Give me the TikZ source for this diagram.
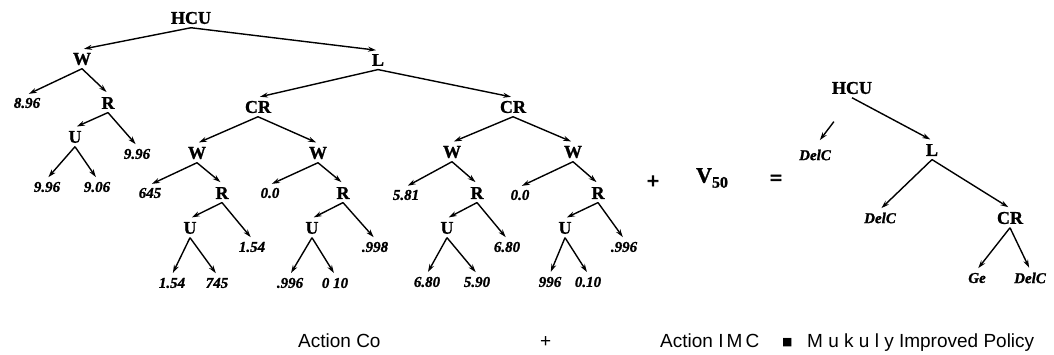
\documentclass[tikz,border=0pt]{standalone}
\usepackage{fontspec}
\setmainfont{Liberation Serif}
\newfontfamily\tb[FakeBold=1.2]{Liberation Serif}
\newfontfamily\tbb[FakeBold=3]{Liberation Serif}
\newfontfamily\sansfam{Liberation Sans}
\newfontfamily\symfam{DejaVu Sans}
\usetikzlibrary{arrows.meta}
\begin{document}
\begin{tikzpicture}[x=1pt,y=-1pt,
  lab/.style={font=\tb\bfseries\fontsize{18}{18}\selectfont, inner sep=3.5pt},
  num/.style={font=\tb\bfseries\itshape\fontsize{15}{15}\selectfont, inner sep=3pt},
  arr/.style={-{Stealth[length=8pt,width=5pt]}, line width=1.4pt, shorten >=2pt},
  btm/.style={font=\sansfam\fontsize{19}{19}\selectfont, inner sep=0pt, anchor=base west}]
\useasboundingbox (0,0) rectangle (1054,355);
% left tree
\node[lab] (hcu) at (191,18) {HCU};
\node[lab] (w1) at (82,59) {W};
\node[lab] (l1) at (378,60) {L};
\node[num] (n896) at (27,103) {8.96};
\node[lab] (r1) at (108,103) {R};
\node[lab] (u1) at (75,137) {U};
\node[num] (n996a) at (137,154) {9.96};
\node[num] (n996b) at (47,187) {9.96};
\node[num] (n906) at (97,187) {9.06};
\node[lab] (cr1) at (258,107) {CR};
\node[lab] (wa) at (197,153) {W};
\node[lab] (wb) at (318,153) {W};
\node[num] (n645) at (150,193) {645};
\node[lab] (ra) at (222,193) {R};
\node[num] (n00a) at (270,193) {0.0};
\node[lab] (rb) at (343,193) {R};
\node[lab] (ua) at (190,228) {U};
\node[num] (n154a) at (252,247) {1.54};
\node[lab] (ub) at (312,228) {U};
\node[num] (n998) at (375,247) {.998};
\node[num] (n154b) at (172,283) {1.54};
\node[num] (n745) at (217,283) {745};
\node[num] (n996c) at (290,283) {.996};
\node[num] (n010a) at (335,283) {0 10};
\node[lab] (cr2) at (513,107) {CR};
\node[lab] (wc) at (452,152) {W};
\node[lab] (wd) at (573,152) {W};
\node[num] (n581) at (406,195) {5.81};
\node[lab] (rc) at (477,193) {R};
\node[num] (n00b) at (520,195) {0.0};
\node[lab] (rd) at (598,193) {R};
\node[lab] (uc) at (447,228) {U};
\node[num] (n680a) at (507,247) {6.80};
\node[lab] (ud) at (565,228) {U};
\node[num] (n996d) at (624,247) {.996};
\node[num] (n680b) at (427,282) {6.80};
\node[num] (n590) at (477,282) {5.90};
\node[num] (n996e) at (550,282) {996};
\node[num] (n010b) at (588,282) {0.10};
\foreach \p/\c in {hcu/w1,hcu/l1,w1/n896,w1/r1,r1/u1,r1/n996a,u1/n996b,u1/n906,
  l1/cr1,l1/cr2,cr1/wa,cr1/wb,wa/n645,wa/ra,wb/n00a,wb/rb,ra/ua,ra/n154a,rb/ub,rb/n998,
  ua/n154b,ua/n745,ub/n996c,ub/n010a,cr2/wc,cr2/wd,wc/n581,wc/rc,wd/n00b,wd/rd,
  rc/uc,rc/n680a,rd/ud,rd/n996d,uc/n680b,uc/n590,ud/n996e,ud/n010b}
  \draw[arr] (\p.south) -- (\c.north);
% middle
\node[font=\tbb\bfseries\fontsize{22}{22}\selectfont] (plus) at (653,182) {+};
\node[font=\tb\bfseries\fontsize{22}{22}\selectfont, inner sep=0pt] (v50) at (712,178) {V\raisebox{-5pt}{\fontsize{16}{16}\selectfont 50}};
\node[font=\tbb\bfseries\fontsize{22}{22}\selectfont] (eq) at (776,180) {=};
% right tree
\node[lab] (hcu2) at (852,88) {HCU};
\node[num] (delc1) at (815,155) {DelC};
\node[lab] (l2) at (932,150) {L};
\node[num] (delc2) at (880,218) {DelC};
\node[lab] (cr3) at (1010,218) {CR};
\node[num] (ge) at (977,278) {Ge};
\node[num] (delc3) at (1030,278) {DelC};
\draw[arr, shorten <=30pt, shorten >=8pt] (hcu2.south) -- (delc1.north);
\foreach \p/\c in {hcu2/l2,l2/delc2,l2/cr3,cr3/ge,cr3/delc3}
  \draw[arr] (\p.south) -- (\c.north);
% bottom
\node[btm] (t1) at (298,347) {Action Co};
\node[btm] (t2) at (540,347) {+};
\node[btm] (t3) at (660,347) {Action I\,M\,C};
\node[font=\symfam\fontsize{11}{11}\selectfont, inner sep=0pt, anchor=base west] (sq) at (782,345) {■};
\node[btm] (t4) at (807,347) {M u k u l y Improved Policy};
\end{tikzpicture}
\end{document}
